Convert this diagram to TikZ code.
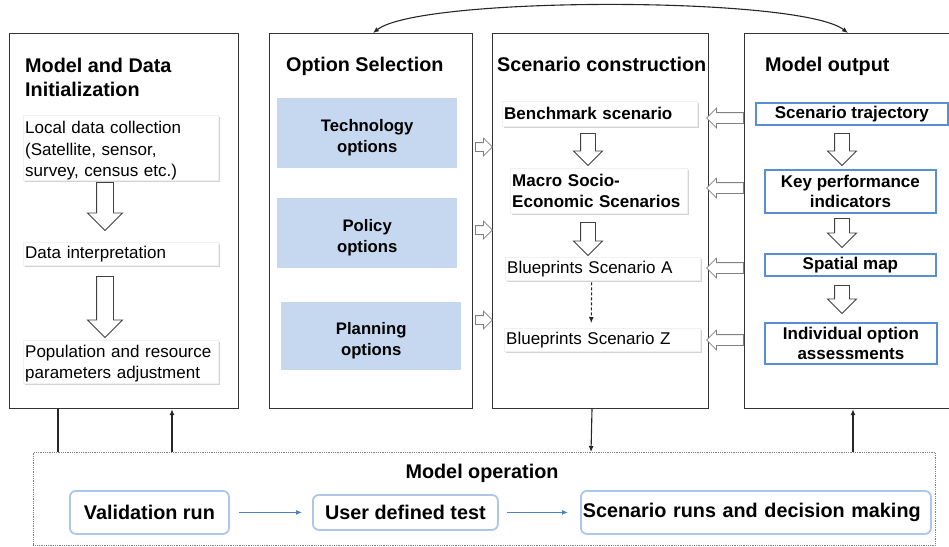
\documentclass[tikz,border=0pt]{standalone}
\usepackage{fontspec}
\setmainfont{Liberation Sans}
\usetikzlibrary{arrows.meta}
\usetikzlibrary{shapes.arrows}
\usetikzlibrary{shadows}

\definecolor{optblue}{RGB}{198,216,240}
\definecolor{outblue}{RGB}{88,142,214}
\definecolor{runblue}{RGB}{172,198,236}
\definecolor{arrblue}{RGB}{79,129,189}
\newcommand{\lowstrut}[1]{\rule{0pt}{#1}}

\begin{document}
\begin{tikzpicture}[x=1pt,y=-1pt,
  panel/.style={draw=black!80,line width=1.2pt,inner sep=0pt,anchor=north west,minimum height=375pt},
  ptitle/.style={font=\fontsize{19.8}{24}\selectfont\bfseries,inner sep=0pt,align=left},
  databox/.style={fill=white,draw=black!6,drop shadow={shadow xshift=1.5pt,shadow yshift=-1.5pt,opacity=.35},
    font=\fontsize{17}{21.5}\selectfont,align=left,anchor=north west,inner xsep=2pt,inner ysep=0pt},
  optbox/.style={fill=optblue,font=\fontsize{16.7}{21}\selectfont\bfseries,align=center,anchor=north west,
    minimum width=180pt,inner sep=0pt},
  outbox/.style={draw=outblue,line width=1.8pt,fill=white,font=\fontsize{17}{20.5}\selectfont\bfseries,
    align=center,anchor=north west,inner sep=0pt},
  runbox/.style={draw=runblue,line width=1.8pt,rounded corners=6pt,font=\fontsize{19.8}{23}\selectfont\bfseries,
    anchor=north west,inner sep=0pt},
  hollow/.style={single arrow,draw=black!75,fill=white,line width=0.9pt,inner sep=0pt,anchor=tail},
  thin arrow/.style={single arrow,draw=black!50,fill=white,line width=0.8pt,inner sep=0pt,anchor=tail},
  link/.style={draw=black!85,line width=1.1pt},
  tip/.style={-{Latex[length=6pt,width=5pt]}}]
\useasboundingbox (0,0) rectangle (949,546);

% panels
\node[panel,minimum width=229pt] (init) at (9,33) {};
\node[panel,minimum width=203pt] (opt) at (269,33) {};
\node[panel,minimum width=216pt] (scen) at (492,33) {};
\node[panel,minimum width=215pt] (out) at (744,33) {};
\node[draw=black!50,densely dotted,line width=0.8pt,inner sep=0pt,anchor=north west,
  minimum width=902pt,minimum height=93pt] (op) at (33,452) {};

\node[ptitle,anchor=north west] (t1) at (25,57.5) {Model and Data\\Initialization};
\node[ptitle,anchor=base west] (t2) at (286,71) {Option Selection};
\node[ptitle,anchor=base west] (t3) at (497,71) {Scenario construction};
\node[ptitle,anchor=base west] (t4) at (765,71) {Model output};
\node[ptitle,anchor=base] (t5) at (482,478) {Model operation};

% model and data initialization
\node[databox,text width=191pt,minimum height=63pt] (ldc) at (23,115)
  {\lowstrut{18.5pt}Local data collection\\(Satellite, sensor,\\survey, census etc.)};
\node[databox,text width=191pt,minimum height=23pt] (dint) at (23,242) {Data interpretation};
\node[databox,text width=191pt,minimum height=43pt] (pop) at (23,340)
  {\lowstrut{16.5pt}Population and resource\\parameters adjustment};
\node[hollow,rotate=-90,minimum height=48pt,inner ysep=8pt,single arrow head extend=9pt] (a1) at (105,182) {};
\node[hollow,rotate=-90,minimum height=61pt,inner ysep=8pt,single arrow head extend=9pt] (a2) at (105,276) {};

% option selection
\node[optbox,minimum height=70pt] (tech) at (277,98) {\lowstrut{21pt}Technology\\options};
\node[optbox,minimum height=70pt] (pol) at (277,198) {\lowstrut{21pt}Policy\\options};
\node[optbox,minimum height=68pt] (plan) at (281,302) {\lowstrut{21pt}Planning\\options};
\node[thin arrow,minimum height=17pt,inner ysep=4pt,single arrow head extend=4.5pt] (r1) at (475,147) {};
\node[thin arrow,minimum height=17pt,inner ysep=4pt,single arrow head extend=4.5pt] (r2) at (475,230) {};
\node[thin arrow,minimum height=17pt,inner ysep=4pt,single arrow head extend=4.5pt] (r3) at (475,320) {};

% scenario construction
\node[databox,font=\fontsize{17}{20.5}\selectfont\bfseries,text width=191pt,minimum height=25pt] (bench) at (502,101) {Benchmark scenario};
\node[databox,font=\fontsize{17}{20.5}\selectfont\bfseries,text width=173pt,minimum height=45pt] (macro) at (510,168)
  {Macro Socio-\\Economic Scenarios};
\node[databox,text width=191pt,minimum height=23pt] (bpa) at (505,257) {Blueprints Scenario A};
\node[databox,text width=192pt,minimum height=23pt] (bpz) at (504,328) {Blueprints Scenario Z};
\node[hollow,rotate=-90,minimum height=32pt,inner ysep=7pt,single arrow head extend=7pt] (a3) at (588,133) {};
\node[hollow,rotate=-90,minimum height=33pt,inner ysep=7pt,single arrow head extend=7pt] (a4) at (588,222) {};
\draw[link,densely dashed,tip,shorten <=2pt,shorten >=5pt] ([xshift=-11pt]bpa.south) -- ([xshift=-11pt]bpz.north);

% model output
\node[outbox,minimum width=192pt,minimum height=22pt] (traj) at (755,102) {Scenario trajectory};
\node[outbox,minimum width=171pt,minimum height=43pt] (kpi) at (764,169) {Key performance\\indicators};
\node[outbox,minimum width=171pt,minimum height=22pt] (smap) at (764,253) {Spatial map};
\node[outbox,minimum width=172pt,minimum height=41pt] (ioa) at (764,322) {Individual option\\assessments};
\node[hollow,rotate=-90,minimum height=32pt,inner ysep=7pt,single arrow head extend=7pt] (a5) at (842,133) {};
\node[hollow,rotate=-90,minimum height=29pt,inner ysep=7pt,single arrow head extend=7pt] (a6) at (842,218) {};
\node[hollow,rotate=-90,minimum height=28pt,inner ysep=7pt,single arrow head extend=7pt] (a7) at (842,285) {};
\node[thin arrow,rotate=180,minimum height=37pt,inner ysep=5pt,single arrow head extend=4.5pt] (l1) at (744,118) {};
\node[thin arrow,rotate=180,minimum height=37pt,inner ysep=5pt,single arrow head extend=4.5pt] (l2) at (744,188) {};
\node[thin arrow,rotate=180,minimum height=37pt,inner ysep=5pt,single arrow head extend=4.5pt] (l3) at (744,268) {};
\node[thin arrow,rotate=180,minimum height=37pt,inner ysep=5pt,single arrow head extend=4.5pt] (l4) at (744,340) {};

% model operation
\node[runbox,minimum width=159pt,minimum height=43pt] (val) at (69,490) {Validation run};
\node[runbox,minimum width=185pt,minimum height=35pt] (udt) at (312,494) {User defined test};
\node[runbox,minimum height=43pt,text width=346pt,inner xsep=2pt,align=left] (runs) at (580,490) {Scenario runs and decision making};
\draw[arrblue,line width=1pt,tip,shorten <=9pt,shorten >=10pt] (val.east) -- (udt.west);
\draw[arrblue,line width=1pt,tip,shorten <=8pt,shorten >=12pt] (udt.east) -- (runs.west);

% links between panels
\draw[link,{Latex[length=6pt,width=5pt]}-{Latex[length=6pt,width=5pt]}] ([xshift=104pt]opt.north west) .. controls (420,-4) and (800,-4) .. ([xshift=104pt]out.north west);
\draw[link] ([xshift=49pt]init.south west) -- ([xshift=49pt]init.south west |- op.north);
\draw[link,tip] ([xshift=163pt]init.south west |- op.north) -- ([xshift=163pt]init.south west);
\draw[link,tip] ([xshift=100pt]scen.south west) -- ([xshift=99pt]scen.south west |- op.north);
\draw[link,tip] ([xshift=109pt]out.south west |- op.north) -- ([xshift=109pt]out.south west);

\end{tikzpicture}
\end{document}
